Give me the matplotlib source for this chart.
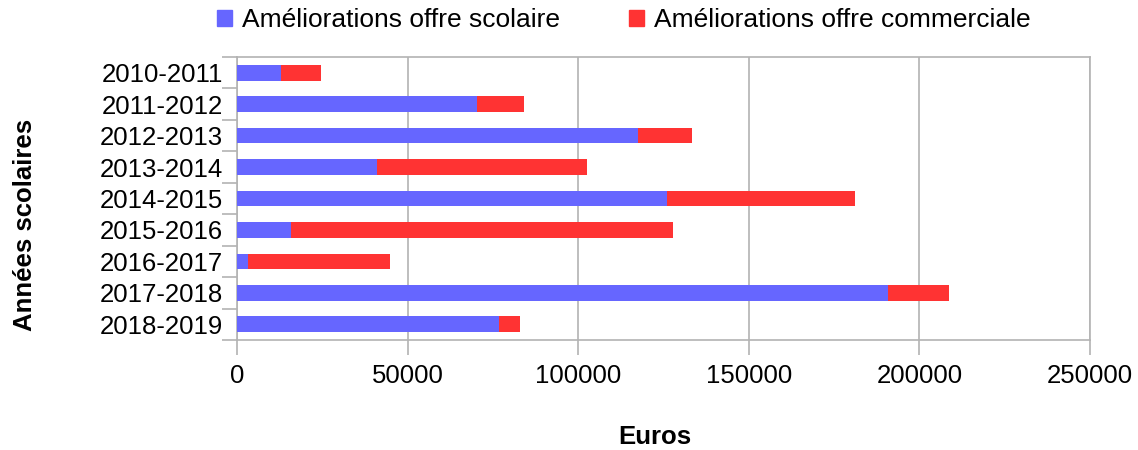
import numpy as np
import matplotlib
matplotlib.use("Agg")
import matplotlib.pyplot as plt
from matplotlib.patches import Patch

plt.rcParams['font.family'] = ['Liberation Sans', 'DejaVu Sans']

# data
annees = ['2010-2011', '2011-2012', '2012-2013', '2013-2014', '2014-2015',
          '2015-2016', '2016-2017', '2017-2018', '2018-2019']
scolaire = [13000, 70400, 117500, 40900, 125900, 15800, 3100, 190800, 76800]
commerciale = [11600, 13800, 15800, 61600, 55100, 112000, 41600, 18000, 6200]

blue = '#6666ff'
red = '#ff3333'
grey = '#b3b3b3'

fig = plt.figure(figsize=(11.38, 4.5), dpi=100)
ax = fig.add_axes([237 / 1138, 1 - 340 / 450, (1090 - 237) / 1138, (340 - 57) / 450])

y = np.arange(len(annees))
ax.barh(y, scolaire, height=0.5, color=blue, zorder=3)
ax.barh(y, commerciale, left=scolaire, height=0.5, color=red, zorder=3)

ax.set_ylim(len(annees) - 0.5, -0.5)
ax.set_xlim(0, 250000)
ax.set_xticks(np.arange(0, 250001, 50000))
ax.set_yticks(y)
ax.set_yticklabels(annees)
ax.set_yticks(np.arange(-0.5, len(annees)), minor=True)
ax.tick_params(axis='y', which='major', length=0, pad=10, labelsize=18.5)
ax.tick_params(axis='y', which='minor', length=11, color=grey, width=1.2)
ax.tick_params(axis='x', length=11, color=grey, width=1.2, pad=6, labelsize=18.5)

ax.grid(axis='x', color=grey, linewidth=1.2, zorder=0)
for s in ax.spines.values():
    s.set_color(grey)
    s.set_linewidth(1.2)

ax.set_xlabel('Euros', fontsize=18.5, fontweight='bold', va='center')
ax.xaxis.set_label_coords(0.49, -0.343)
ax.set_ylabel('Années scolaires', fontsize=18.5, fontweight='bold', va='center')
ax.yaxis.set_label_coords(-0.249, 0.406)

handles = [Patch(color=blue), Patch(color=red)]
fig.legend(handles, ['Améliorations offre scolaire', 'Améliorations offre commerciale'],
           loc='center', bbox_to_anchor=(624 / 1138, 1 - 20 / 450), ncol=2,
           frameon=False, fontsize=19, handlelength=0.56, handleheight=0.56,
           handletextpad=0.4, columnspacing=2.6, borderpad=0, borderaxespad=0)

fig.savefig('out.png', dpi=100)
